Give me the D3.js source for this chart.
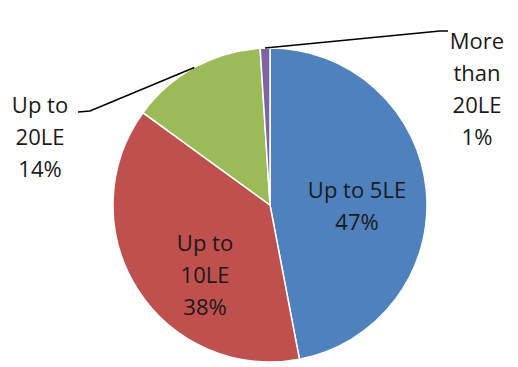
<!DOCTYPE html>
<html>
<head>
<meta charset="utf-8">
<script src="https://cdn.jsdelivr.net/npm/d3@7"></script>
<style>
  html, body { margin: 0; padding: 0; background: #fff; }
  svg { display: block; }
  text { font-family: "Open Sans", "DejaVu Sans", sans-serif; font-size: 22px; fill: #1a1a1a; }
</style>
</head>
<body>
<svg id="chart" width="518" height="367"></svg>
<script>
// Share of spending by price band
const categories = ["Up to 5LE", "Up to 10LE", "Up to 20LE", "More than 20LE"];
const values = [47, 38, 14, 1];
const labelLines = [
  ["Up to 5LE", "47%"],
  ["Up to", "10LE", "38%"],
  ["Up to", "20LE", "14%"],
  ["More", "than", "20LE", "1%"]
];
const colors = ["#4F81BD", "#C0504D", "#9BBB59", "#8064A2"];

const W = 518, H = 367;
const cx = 270, cy = 205, R = 157;
const lineGap = 32;

const svg = d3.select("#chart");
const g = svg.append("g").attr("transform", `translate(${cx},${cy})`);

const pie = d3.pie().sort(null).value(d => d.value);
const arcs = pie(categories.map((c, i) => ({ cat: c, value: values[i], i })));
const arc = d3.arc().innerRadius(0).outerRadius(R);
const colorScale = d3.scaleOrdinal().domain(categories).range(colors);

g.selectAll("path.slice")
  .data(arcs)
  .join("path")
  .attr("class", "slice")
  .attr("d", arc)
  .attr("fill", d => colorScale(d.data.cat))
  .attr("stroke", "#fff")
  .attr("stroke-width", 1.5);

// Label anchors (relative to pie centre) and leader-line elbows for outside labels
const labelPlacement = [
  { x: 87, y: 1, inside: true },
  { x: -65, y: 70, inside: true },
  { x: -230, y: -68, inside: false, elbow: [-180, -94], end: [-192, -93] },
  { x: 207, y: -116, inside: false, elbow: [170, -174], end: [178, -174] }
];

arcs.forEach((a, i) => {
  const p = labelPlacement[i];
  const lines = labelLines[i];
  const n = lines.length;
  const t = g.append("text")
    .attr("text-anchor", "middle");
  lines.forEach((ln, k) => {
    t.append("tspan")
      .attr("x", p.x)
      .attr("y", p.y + (k - (n - 1) / 2) * lineGap)
      .attr("dy", "0.35em")
      .text(ln);
  });

  if (!p.inside) {
    const mid = (a.startAngle + a.endAngle) / 2;
    const sx = Math.sin(mid) * R, sy = -Math.cos(mid) * R;
    g.append("path")
      .attr("d", d3.line()([[sx, sy], p.elbow, p.end]))
      .attr("fill", "none")
      .attr("stroke", "#000")
      .attr("stroke-width", 1.6);
  }
});
</script>
</body>
</html>
